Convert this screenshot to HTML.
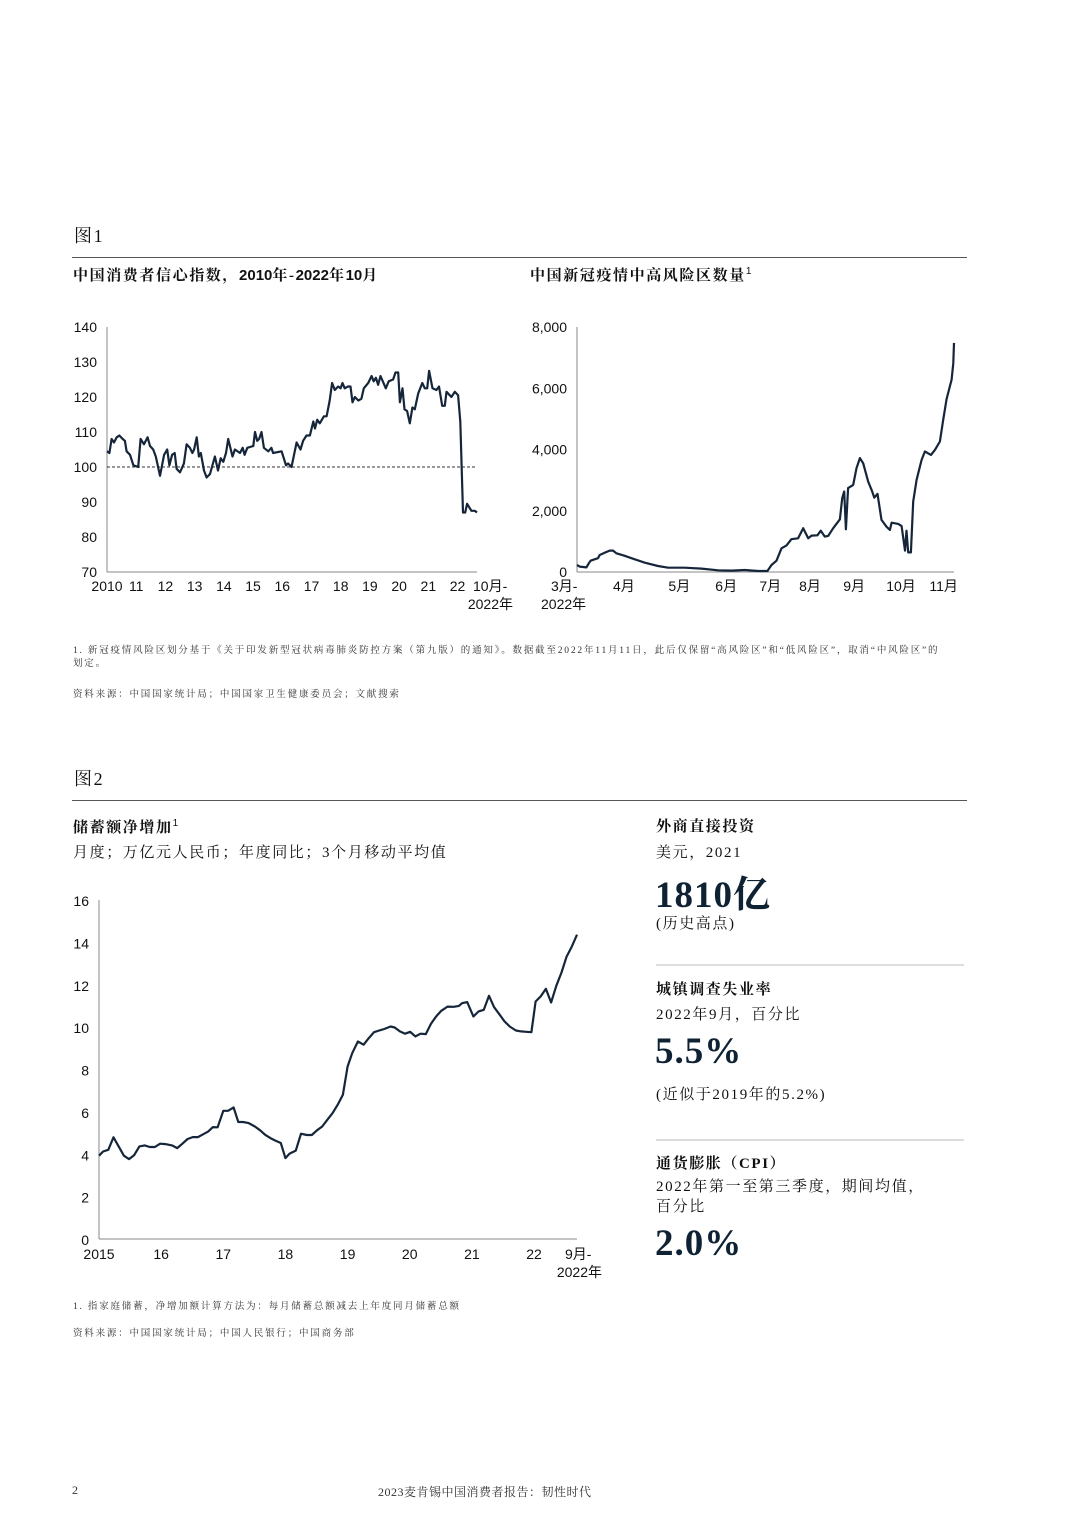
<!DOCTYPE html>
<html><head><meta charset="utf-8">
<style>
body{margin:0;background:#fff;}
#page{position:relative;width:1080px;height:1535px;background:#fff;font-family:"Liberation Sans","Noto Sans CJK SC",sans-serif;color:#111;overflow:hidden}
.t{position:absolute;white-space:nowrap;}
.serif{font-family:"Liberation Serif","Noto Serif CJK SC",serif;letter-spacing:1.6px;}
.b{font-weight:bold;}
.hr{position:absolute;height:1px;background:#555;}
.hr2{position:absolute;height:2px;background:#ddd;}
svg{position:absolute;left:0;top:0;}
.big{font-family:"Liberation Serif","Noto Serif CJK SC",serif;font-weight:bold;font-size:37px;color:#0f2234;letter-spacing:1px;}
.fn{font-size:9.5px;color:#333;letter-spacing:1.8px;}
</style></head><body>
<div id="page">
<div class="t serif" style="left:74px;top:222px;font-size:18px">图1</div>
<div class="hr" style="left:72px;top:257px;width:895px"></div>
<div class="t b serif" style="left:73px;top:264px;font-size:15px">中国消费者信心指数，<span style="font-family:'Liberation Sans';letter-spacing:0">2010</span>年-<span style="font-family:'Liberation Sans';letter-spacing:0">2022</span>年<span style="font-family:'Liberation Sans';letter-spacing:0">10</span>月</div>
<div class="t b serif" style="left:530px;top:264px;font-size:15px">中国新冠疫情中高风险区数量<sup style="font-size:10px;font-family:'Liberation Sans';font-weight:normal">1</sup></div>

<div class="t serif fn" style="left:73px;top:645px;line-height:13px">1. 新冠疫情风险区划分基于《关于印发新型冠状病毒肺炎防控方案（第九版）的通知》。数据截至2022年11月11日，此后仅保留“高风险区”和“低风险区”，取消“中风险区”的<br>划定。</div>
<div class="t serif fn" style="left:73px;top:686px;">资料来源：中国国家统计局；中国国家卫生健康委员会；文献搜索</div>

<div class="t serif" style="left:74px;top:765px;font-size:18px">图2</div>
<div class="hr" style="left:72px;top:800px;width:895px"></div>
<div class="t b serif" style="left:73px;top:816px;font-size:15px">储蓄额净增加<sup style="font-size:10px;font-family:'Liberation Sans';font-weight:normal">1</sup></div>
<div class="t serif" style="left:73px;top:841px;font-size:15px">月度；万亿元人民币；年度同比；3个月移动平均值</div>

<div class="t b serif" style="left:656px;top:815px;font-size:15px">外商直接投资</div>
<div class="t serif" style="left:656px;top:841px;font-size:15px">美元，2021</div>
<div class="t big" style="left:655px;top:864px;">1810亿</div>
<div class="t serif" style="left:656px;top:912px;font-size:15px">(历史高点)</div>
<div class="hr2" style="left:656px;top:964px;width:308px"></div>
<div class="t b serif" style="left:656px;top:978px;font-size:15px">城镇调查失业率</div>
<div class="t serif" style="left:656px;top:1003px;font-size:15px">2022年9月，百分比</div>
<div class="t big" style="left:655px;top:1030px;">5.5%</div>
<div class="t serif" style="left:656px;top:1083px;font-size:15px">(近似于2019年的5.2%)</div>
<div class="hr2" style="left:656px;top:1139px;width:308px"></div>
<div class="t b serif" style="left:656px;top:1152px;font-size:15px">通货膨胀（CPI）</div>
<div class="t serif" style="left:656px;top:1177px;font-size:15px;line-height:20px">2022年第一至第三季度，期间均值，<br>百分比</div>
<div class="t big" style="left:655px;top:1222px;">2.0%</div>

<div class="t serif fn" style="left:73px;top:1298px;">1. 指家庭储蓄，净增加额计算方法为：每月储蓄总额减去上年度同月储蓄总额</div>
<div class="t serif fn" style="left:73px;top:1325px;">资料来源：中国国家统计局；中国人民银行；中国商务部</div>

<div class="t serif" style="left:72px;top:1483px;font-size:12px;color:#333">2</div>
<div class="t serif" style="left:378px;top:1483px;font-size:12px;color:#333;letter-spacing:0.5px">2023麦肯锡中国消费者报告：韧性时代</div>

<svg id="svg" width="1080" height="1535"></svg>
</div>
<script>
// Chart 1: consumer confidence (months since Jan 2010)
const c1Months=[0,1,1.9,2.9,4,5.1,6.5,7.4,8.1,9.5,10.9,12.9,13.9,15.3,16.8,17.8,19.1,20.2,21.9,23.6,24.9,25.8,26.9,28,28.8,30.2,31.8,32.9,34.3,35.3,36,37.1,38,38.8,40.1,41.2,42.6,44.6,45.9,47,48.1,49.2,50.1,51.9,52.9,55,56.1,56.9,58,60.5,61.2,62.1,62.9,63.9,64.9,66.7,68,68.7,72.2,74,74.9,76.3,78.4,80,81.1,82.5,83.9,85.3,86,86.9,88,89.7,90.8,92.1,93.1,94.2,95.6,96.6,97.4,98.3,99.7,100.7,101.5,102.5,103.9,105.2,106.2,108,109.4,110.3,111.2,112.1,113.1,115.3,116.5,118.3,119.3,120.4,121.1,122.2,123,124.1,125.2,126.3,127.3,128.7,130.4,131.4,132.4,133.2,134.6,136.2,137.3,138.6,139.7,140.4,142.4,143.8,145.2,146.1,147.2,148.1,148.9,150.7,152.1,153];
const c1Values=[104.5,104,108,107,108.5,109,108,107.5,104.5,103.5,100.5,100,108,106.5,108.5,106,105,103,97.5,103.5,105,100.5,103.5,104,99.5,98.5,101,106.5,105.5,104,105,108.5,103,104,99,97,98,103,99,102.5,101.5,104,108,103,105,104,105.5,103.5,105.5,106,110,107.5,108,110,105.5,104.5,105.5,104,104.5,100.5,101,100,107,105,107.5,109,109,113,111,113.5,112.5,114.5,114.5,119,124,122,123,122.5,124,122.5,123,123,118.5,120,119,119.5,122.5,124,126,124.5,125.5,123.5,126,122.5,124.5,125,127,127,118.5,122.5,116.5,116,112.5,117,116.5,121,124,122.5,122.5,127.5,122.5,122,123,117.5,117.5,121.5,120,121.5,120.5,113,87,87,89.5,87.5,87.5,87];
const c1YTicks=[70,80,90,100,110,120,130,140];
const c1XLabels=["2010","11","12","13","14","15","16","17","18","19","20","21","22"];
// Chart 2: risk areas (days since 1 Mar 2022)
const c2Days=[0,1.9,6.6,8.2,9.6,12.4,14.8,16,19.5,23,25.4,27.7,33.6,40.6,47.7,57,64.1,75.8,87.6,99.3,108.7,118.1,127.5,134,136.9,140.4,143.9,147.4,150.9,155.6,159.2,162.7,165,169.2,171.6,174.4,176.8,180.3,185,186.6,188,189.2,190.8,194.4,196.7,199.1,201.4,204.9,207.3,209.2,211.5,214.3,217.8,220.2,221.4,226.1,228.4,230.8,231.9,233.1,235,236.6,239,242.5,244.8,249.1,251.9,255.4,257.7,260.1,263.6,264.8,265.3];
const c2Values=[230,175,150,280,370,415,450,555,630,700,700,610,530,415,305,196,140,140,110,55,45,65,33,33,230,370,775,870,1070,1100,1430,1100,1190,1200,1350,1155,1180,1430,1720,2410,2630,1395,2740,2845,3390,3720,3550,2950,2680,2430,2550,1700,1480,1370,1610,1570,1500,700,1350,640,640,2300,3010,3660,3935,3825,3990,4260,4970,5650,6280,6820,7480];
const c2YTicks=[0,2000,4000,6000,8000];
const c2XLabels=["4月","5月","6月","7月","8月","9月","10月","11月"];
const c2XLabelDays=[33,72,105,136,164,195,228,258];
// Chart 3: savings (months since Jan 2015)
const c3Months=[0,0.8,1.8,2.8,4.8,5.8,6.8,7.8,8.8,9.8,10.8,11.8,12.8,14.1,15.1,16.1,17.1,18.1,19.1,20.1,21.1,22.0,22.9,24.0,24.9,26.0,26.9,27.8,28.9,30.1,31.1,32.1,33.1,34.0,35.1,36.0,36.8,38.0,39.0,40.1,41.1,42.1,43.1,44.1,45.1,46.1,47.1,48.0,48.9,50.0,51.1,52.1,53.1,54.1,55.1,56.3,57.1,58.1,59.1,60.1,61.1,62.1,63.1,64.1,65.1,66.1,67.3,68.5,69.5,70.1,71.1,72.3,73.3,74.3,75.3,76.3,77.3,78.3,79.3,80.5,81.5,82.5,83.5,84.3,85.3,86.3,87.3,88.3,89.3,90.3,91.3,92.3];
const c3Values=[3.93,4.13,4.21,4.8,3.93,3.77,3.96,4.37,4.42,4.34,4.34,4.5,4.48,4.42,4.29,4.5,4.72,4.81,4.81,4.94,5.08,5.28,5.27,6.05,6.05,6.21,5.52,5.52,5.47,5.31,5.13,4.92,4.76,4.65,4.53,3.82,4.03,4.17,4.97,4.91,4.91,5.13,5.31,5.63,5.94,6.34,6.81,8.14,8.77,9.32,9.17,9.48,9.76,9.84,9.91,10.03,9.98,9.8,9.69,9.78,9.56,9.69,9.67,10.16,10.5,10.77,10.97,10.96,11.0,11.13,11.18,10.5,10.74,10.82,11.48,10.94,10.61,10.27,10.03,9.84,9.8,9.78,9.76,11.21,11.45,11.81,11.16,11.95,12.58,13.33,13.8,14.36];
const c3YTicks=[0,2,4,6,8,10,12,14,16];
const c3XLabels=["2015","16","17","18","19","20","21","22"];

const svg=document.getElementById('svg');
const NS='http://www.w3.org/2000/svg';
function mk(tag,attrs){const e=document.createElementNS(NS,tag);for(const k in attrs)e.setAttribute(k,attrs[k]);svg.appendChild(e);return e;}
function txt(x,y,s,anchor,name){const e=mk('text',{x:x,y:y,'text-anchor':anchor,'font-size':14,'font-family':'Liberation Sans, Noto Sans CJK SC, sans-serif',fill:'#111'});e.textContent=s;


return e;}
function line(x1,y1,x2,y2,name,extra){const e=mk('line',Object.assign({x1:x1,y1:y1,x2:x2,y2:y2,stroke:'#888','stroke-width':1},extra||{}));


return e;}
function path(xs,ys,sx,sy,name){let d='';for(let i=0;i<xs.length;i++)d+=(i?'L':'M')+sx(xs[i]).toFixed(1)+','+sy(ys[i]).toFixed(1);
const p=mk('path',{d:d,fill:'none',stroke:'#16263a','stroke-width':2.2,'stroke-linejoin':'round'});

}

// Chart 1
{const x0=107,x1=477,y0=572,y1=327;
const sx=m=>x0+m/153*(x1-x0), sy=v=>y0-(v-70)/70*(y0-y1);
line(x0,y1,x0,y0,'chart1-y-axis');line(x0,y0,x1,y0,'chart1-x-axis');
c1YTicks.forEach(v=>txt(97,sy(v)+5,String(v),'end','chart1-y-tick'));
c1XLabels.forEach((s,i)=>txt(sx(i*12.08),591,s,'middle','chart1-x-tick'));
txt(473,591,'10月-','start','chart1-x-tick-end');txt(513,609,'2022年','end','chart1-x-tick-year');
line(x0,sy(100),x1,sy(100),'chart1-baseline-100',{stroke:'#333','stroke-dasharray':'3,2'});
path(c1Months,c1Values,sx,sy,'chart1-confidence-line');}
// Chart 2
{const x0=577,x1=954,y0=572,y1=327;
const sx=d=>x0+d/265.3*(x1-x0), sy=v=>y0-v/8000*(y0-y1);
line(x0,y1,x0,y0,'chart2-y-axis');line(x0,y0,x1,y0,'chart2-x-axis');
c2YTicks.forEach(v=>txt(567,sy(v)+5,v.toLocaleString('en-US'),'end','chart2-y-tick'));
txt(551,591,'3月-','start','chart2-x-tick-start');txt(541,609,'2022年','start','chart2-x-tick-year');
c2XLabels.forEach((s,i)=>txt(sx(c2XLabelDays[i]),591,s,'middle','chart2-x-tick'));
path(c2Days,c2Values,sx,sy,'chart2-risk-areas-line');}
// Chart 3
{const x0=99,x1=577,y0=1239,y1=900;
const sx=m=>x0+m/92.3*(x1-x0), sy=v=>y0-v/16*(y0-y1);
line(x0,y1,x0,y0,'chart3-y-axis');line(x0,y0,x1,y0,'chart3-x-axis');
c3YTicks.forEach(v=>txt(89,sy(v)+6,String(v),'end','chart3-y-tick'));
c3XLabels.forEach((s,i)=>txt(sx(i*12),1259,s,'middle','chart3-x-tick'));
txt(565,1259,'9月-','start','chart3-x-tick-end');txt(602,1277,'2022年','end','chart3-x-tick-year');
path(c3Months,c3Values,sx,sy,'chart3-savings-line');}
</script>
</body></html>
